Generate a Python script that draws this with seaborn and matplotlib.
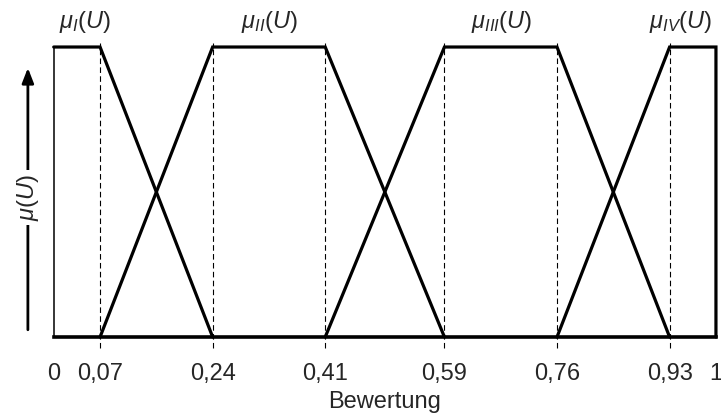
import numpy as np
import pandas as pd
import matplotlib
matplotlib.use('Agg')
import matplotlib.pyplot as plt
import seaborn as sns

# ------------------------------------------------
# data: breakpoints of the four membership functions
# ------------------------------------------------
breaks = [0, 0.07, 0.24, 0.41, 0.59, 0.76, 0.93, 1]
tick_labels = ['0', '0,07', '0,24', '0,41', '0,59', '0,76', '0,93', '1']

mu_I_x = [0, 0.07, 0.24]
mu_I_y = [1, 1, 0]
mu_II_x = [0.07, 0.24, 0.41, 0.59]
mu_II_y = [0, 1, 1, 0]
mu_III_x = [0.41, 0.59, 0.76, 0.93]
mu_III_y = [0, 1, 1, 0]
mu_IV_x = [0.76, 0.93, 1, 1]
mu_IV_y = [0, 1, 1, 0]

names = [r'$\mu_{I}(U)$', r'$\mu_{II}(U)$', r'$\mu_{III}(U)$', r'$\mu_{IV}(U)$']
name_x = [0.047, 0.325, 0.676, 0.946]

# ------------------------------------------------
# style
# ------------------------------------------------
sns.set_style('white')
plt.rcParams['font.family'] = ['Liberation Sans', 'DejaVu Sans']
plt.rcParams['mathtext.fontset'] = 'custom'
plt.rcParams['mathtext.it'] = 'Liberation Sans:italic'
plt.rcParams['mathtext.rm'] = 'Liberation Sans'

FS = 17

frames = []
for name, xs, ys in zip(names, [mu_I_x, mu_II_x, mu_III_x, mu_IV_x],
                        [mu_I_y, mu_II_y, mu_III_y, mu_IV_y]):
    frames.append(pd.DataFrame({'x': xs, 'y': ys, 'set': name}))
df = pd.concat(frames, ignore_index=True)

fig = plt.figure(figsize=(7.21, 4.19), dpi=100)
ax = fig.add_axes([0.0745, 0.1957, 0.9185, 0.6921])

# dashed guides at the breakpoints
for b in breaks[1:-1]:
    ax.plot([b, b], [-0.038, 1.014], color='black', lw=0.8,
            ls=(0, (5, 3)), clip_on=False, zorder=1)

sns.lineplot(data=df, x='x', y='y', units='set', estimator=None,
             sort=False, color='black', linewidth=2.3, ax=ax,
             legend=False, zorder=3)
for line in ax.lines:
    line.set_clip_on(False)
    line.set_solid_joinstyle('miter')

# bottom line and thin left edge
ax.plot([0, 1], [0, 0], color='black', lw=2.6, clip_on=False, zorder=3,
        solid_capstyle='projecting')
ax.plot([0, 0], [0, 1], color='black', lw=1.1, clip_on=False, zorder=2)

ax.set_xlim(0, 1)
ax.set_ylim(0, 1)
for s in ax.spines.values():
    s.set_visible(False)
ax.set_yticks([])
ax.set_xticks(breaks)
ax.set_xticklabels(tick_labels, fontsize=FS)
ax.tick_params(axis='x', length=0, pad=19)
ax.set_xlabel('Bewertung', fontsize=FS, labelpad=4)
ax.set_ylabel('')

# labels above the sets
for name, nx in zip(names, name_x):
    ax.text(nx, 1.086, name, fontsize=FS, ha='center', va='center',
            transform=ax.transAxes)

# y-axis arrow with label
ax.annotate('', xy=(-0.039, 0.928), xytext=(-0.039, 0.025),
            xycoords='axes fraction', textcoords='axes fraction',
            arrowprops=dict(arrowstyle='-|>,head_length=0.9,head_width=0.35',
                            color='black', lw=2.0, shrinkA=0, shrinkB=0))
ax.text(-0.039, 0.48, r'$\mu(U)$', rotation=90, fontsize=FS,
        ha='center', va='center', transform=ax.transAxes,
        bbox=dict(facecolor='white', edgecolor='none', pad=3))

fig.savefig('out.png', dpi=100)
